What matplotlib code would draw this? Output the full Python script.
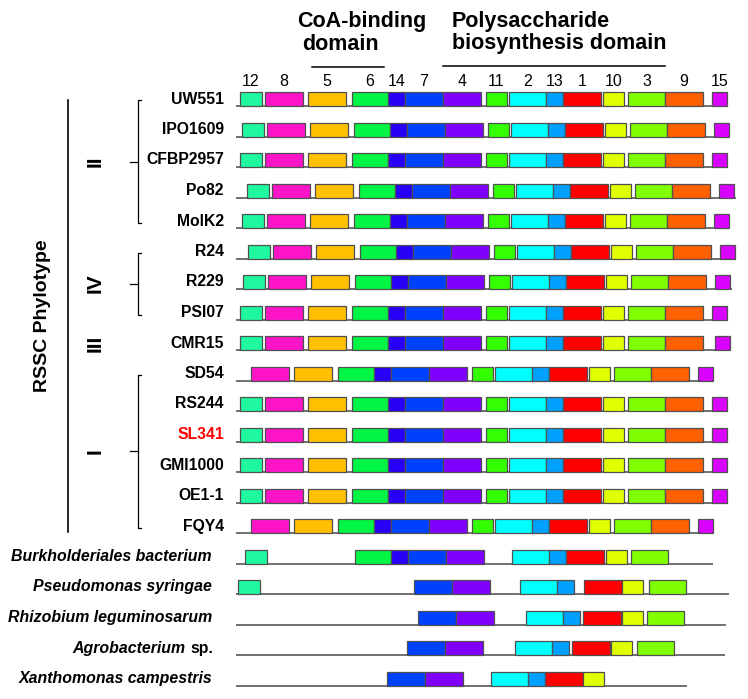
import matplotlib.pyplot as plt
from matplotlib.patches import Rectangle

plt.rcParams['font.family'] = ['Liberation Sans', 'DejaVu Sans']

# gene order / colours / lengths (track units)
genes = ['12', '8', '5', '6', '14', '7', '4', '11', '2', '13', '1', '10', '3', '9', '15']
gene_len = [22, 38, 38, 36, 17, 38, 38, 21, 37, 17, 38, 21, 37, 38, 15]
gene_col = ['#20F8A0', '#FF14C8', '#FFC000', '#00F545', '#2800F5', '#0040FF', '#8000FF',
            '#33FF00', '#00FFFF', '#00A0FF', '#FF0000', '#E0FF00', '#80FF00', '#FF6000', '#D800FF']
# start of each gene in the RSSC reference cluster (UW551)
ref_start = [4, 29, 72, 116, 152, 169, 207, 250, 273, 310, 327, 367, 392, 429, 476]

# RSSC strains: shift, track length, missing genes, extra shift of gene 15
strains = ['UW551', 'IPO1609', 'CFBP2957', 'Po82', 'MolK2', 'R24', 'R229', 'PSI07', 'CMR15',
           'SD54', 'RS244', 'SL341', 'GMI1000', 'OE1-1', 'FQY4']
shift = [0, 2, 0, 7, 2, 8, 3, 0, 0, -14, 0, 0, 0, 0, -14]
track_len = [492, 493, 492, 500, 493, 500, 496, 492, 494, 476, 492, 492, 492, 492, 476]
missing = [[], [], [], [], [], [], [], [], [], ['12'], [], [], [], [], ['12']]
shift15 = [0, 0, 0, 0, 0, 0, 0, 0, 3, 0, 0, 0, 0, 0, 0]

# other species: (italic part, upright part), gene -> start
others = [('Burkholderiales bacterium', ''), ('Pseudomonas syringae', ''),
          ('Rhizobium leguminosarum', ''), ('Agrobacterium', 'sp.'),
          ('Xanthomonas campestris', '')]
other_genes = [
    {'12': 9, '6': 119, '14': 155, '7': 172, '4': 210, '2': 276, '13': 313, '1': 330, '10': 370, '3': 395},
    {'12': 2, '7': 178, '4': 216, '2': 284, '13': 321, '1': 348, '10': 386, '3': 413},
    {'7': 182, '4': 220, '2': 290, '13': 327, '1': 347, '10': 386, '3': 411},
    {'7': 171, '4': 209, '2': 279, '13': 316, '1': 336, '10': 375, '3': 401},
    {'7': 151, '4': 189, '2': 255, '13': 292, '1': 309, '10': 347},
]
other_len = [477, 493, 490, 489, 451]

phylotypes = ['II', 'IV', 'III', 'I']
phylo_rows = [(0, 4), (5, 7), (8, 8), (9, 14)]

fig = plt.figure(figsize=(7.48, 6.99), dpi=100)
ax = fig.add_axes([0, 0, 1, 1])
ax.set_xlim(0, 748)
ax.set_ylim(699, 0)
ax.axis('off')

X0, Y0, DY, H = 236, 106, 30.5, 14
EDGE = '#505050'


def row_mid(i):
    return Y0 + DY * i - H / 2


def draw_track(i, starts, length):
    yb = Y0 + DY * i
    ax.plot([X0, X0 + length], [yb, yb], color='#707070', lw=1.4, zorder=1, solid_capstyle='butt')
    for g, s in starts.items():
        k = genes.index(g)
        ax.add_patch(Rectangle((X0 + s, yb - H), gene_len[k], H, facecolor=gene_col[k],
                               edgecolor=EDGE, lw=0.9, zorder=2))


for i, name in enumerate(strains):
    starts = {}
    for k, g in enumerate(genes):
        if g in missing[i]:
            continue
        starts[g] = ref_start[k] + shift[i] + (shift15[i] if g == '15' else 0)
    draw_track(i, starts, track_len[i])
    ax.text(224, row_mid(i), name, ha='right', va='center', fontsize=11.3,
            fontweight='bold', color='red' if name == 'SL341' else 'black')

for j, (ital, plain) in enumerate(others):
    i = len(strains) + j
    draw_track(i, other_genes[j], other_len[j])
    if plain:
        t = ax.text(213, row_mid(i), plain, ha='right', va='center', fontsize=11.4,
                    fontweight='bold')
        ax.annotate(ital + ' ', xy=(0, 0.5), xycoords=t, ha='right', va='center',
                    fontsize=11.4, fontweight='bold', style='italic')
    else:
        ax.text(212, row_mid(i), ital, ha='right', va='center', fontsize=11.4,
                fontweight='bold', style='italic')

# gene numbers
for k, g in enumerate(genes):
    ax.text(X0 + ref_start[k] + gene_len[k] / 2, 82, g, ha='center', va='center', fontsize=11.5)

# domain headers
ax.text(297, 21, 'CoA-binding', ha='left', va='center', fontsize=15.5, fontweight='bold')
ax.text(302, 44, 'domain', ha='left', va='center', fontsize=15.5, fontweight='bold')
ax.plot([312, 384], [67, 67], color='black', lw=1.1)
ax.text(452, 21, 'Polysaccharide', ha='left', va='center', fontsize=15.5, fontweight='bold')
ax.text(452, 44, 'biosynthesis domain', ha='left', va='center', fontsize=15.5, fontweight='bold')
ax.plot([443, 665], [66, 66], color='black', lw=1.1)

# phylotype brackets
ax.plot([68, 68], [100, 532], color='black', lw=1.2)
ax.text(43, 316, 'RSSC Phylotype', rotation=90, ha='center', va='center', fontsize=14,
        fontweight='bold')
for p, (a, b) in zip(phylotypes, phylo_rows):
    if a != b:
        ya, yb = row_mid(a) + 1, row_mid(b) + 2
        ym = (ya + yb) / 2
        ax.plot([141, 138, 138, 141], [ya, ya, yb, yb], color='black', lw=0.9)
        ax.plot([130, 138], [ym, ym], color='black', lw=0.9)
    else:
        ym = row_mid(a)
    ax.text(95, ym, p, rotation=90, ha='center', va='center', fontsize=15, fontweight='bold')

fig.savefig('out.png', dpi=100)
